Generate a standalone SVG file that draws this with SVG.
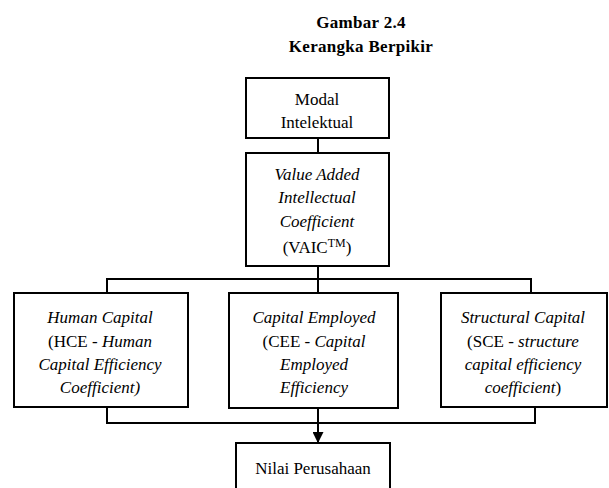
<svg xmlns="http://www.w3.org/2000/svg" width="609" height="488" viewBox="0 0 609 488">
<style>
.box{fill:#fff;stroke:#000;stroke-width:2}
.ln{fill:none;stroke:#000;stroke-width:2}
text{font-family:'Liberation Serif','DejaVu Serif',serif;font-size:17px;fill:#000;text-anchor:middle}
.t{font-weight:bold;font-size:17px;letter-spacing:0.3px}
.i{font-style:italic}
</style>
<defs>
<marker id="ah" viewBox="0 0 10 10" refX="9" refY="5" markerWidth="5.5" markerHeight="5.5" orient="auto" markerUnits="strokeWidth">
<path d="M0,0 L10,5 L0,10 z" fill="#000"/>
</marker>
</defs>
<g id="title">
<text class="t" x="361" y="28">Gambar 2.4</text>
<text class="t" x="361" y="52">Kerangka Berpikir</text>
</g>
<g id="connectors">
<line class="ln" x1="318" y1="138" x2="318" y2="153"/>
<line class="ln" x1="318" y1="266" x2="318" y2="279"/>
<polyline class="ln" points="107,293 107,279 531,279 531,293"/>
<line class="ln" x1="318" y1="279" x2="318" y2="293"/>
<polyline class="ln" points="107,407 107,423 535,423 535,407"/>
<line class="ln" x1="318" y1="408" x2="318" y2="423"/>
<line class="ln" x1="318" y1="423" x2="318" y2="442" marker-end="url(#ah)"/>
</g>
<g id="modal">
<rect class="box" x="246" y="78" width="143" height="60"/>
<text x="317" y="105">Modal</text>
<text x="317" y="128">Intelektual</text>
</g>
<g id="vaic">
<rect class="box" x="246" y="153" width="143" height="113"/>
<text class="i" x="317" y="180">Value Added</text>
<text class="i" x="317" y="203">Intellectual</text>
<text class="i" x="317" y="227">Coefficient</text>
<text x="317" y="253">(VAIC<tspan dy="-6" font-size="12">TM</tspan><tspan dy="6">)</tspan></text>
</g>
<g id="hce">
<rect class="box" x="14" y="293" width="174" height="114"/>
<text class="i" x="100" y="323">Human Capital</text>
<text x="100" y="347">(HCE - <tspan class="i">Human</tspan></text>
<text class="i" x="100" y="370">Capital Efficiency</text>
<text class="i" x="100" y="393">Coefficient)</text>
</g>
<g id="cee">
<rect class="box" x="229" y="293" width="169" height="115"/>
<text class="i" x="314" y="323">Capital Employed</text>
<text x="314" y="347">(CEE - <tspan class="i">Capital</tspan></text>
<text class="i" x="314" y="370">Employed</text>
<text class="i" x="314" y="393">Efficiency</text>
</g>
<g id="sce">
<rect class="box" x="441" y="293" width="166" height="114"/>
<text class="i" x="523" y="323">Structural Capital</text>
<text x="523" y="347">(SCE - <tspan class="i">structure</tspan></text>
<text class="i" x="523" y="370">capital efficiency</text>
<text x="523" y="393"><tspan class="i">coefficient</tspan>)</text>
</g>
<g id="nilai">
<rect class="box" x="236" y="443" width="154" height="60"/>
<text x="313" y="474">Nilai Perusahaan</text>
</g>
</svg>
